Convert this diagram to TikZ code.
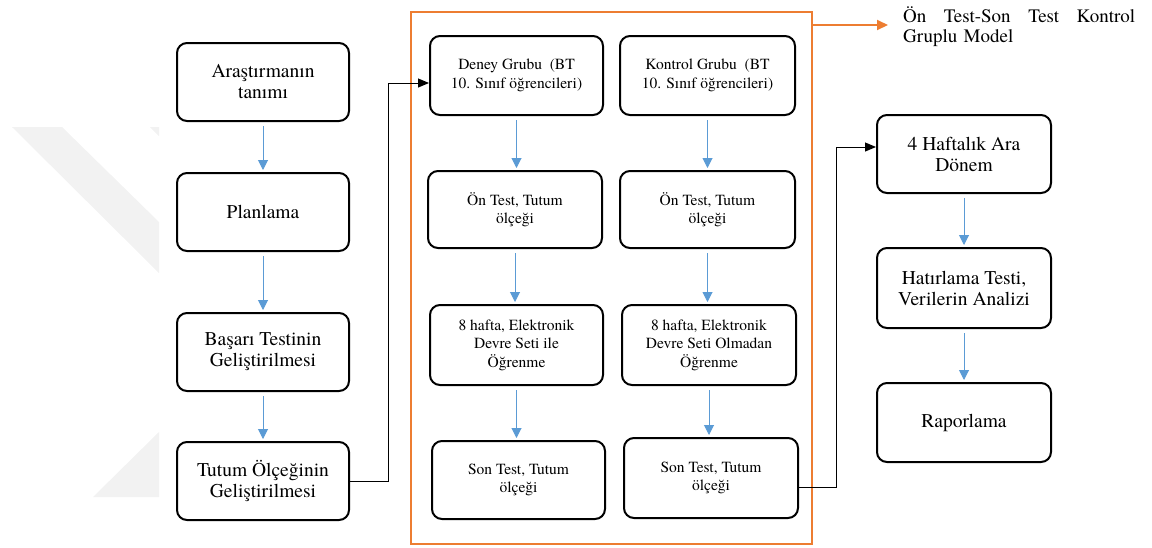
\documentclass[tikz,border=0pt]{standalone}
\usepackage{fontspec}
\IfFontExistsTF{texgyretermes-regular.otf}
    {\setmainfont{texgyretermes}[Extension=.otf, UprightFont=*-regular, BoldFont=*-bold,
        ItalicFont=*-italic, BoldItalicFont=*-bolditalic]}
    {\setmainfont{Liberation Serif}}
\usetikzlibrary{arrows.meta}

\definecolor{flowblue}{RGB}{91,155,213}
\definecolor{frameorange}{RGB}{237,125,49}

\begin{document}
\begin{tikzpicture}[x=1pt, y=-1pt,
    stage/.style={draw, line width=2pt, rounded corners=10pt, align=center, inner sep=0pt,
        font=\fontsize{19.5}{21}\selectfont, minimum width=172pt, minimum height=78pt},
    group/.style={stage, font=\fontsize{15.5}{18.5}\selectfont, minimum width=173pt},
    flow/.style={flowblue, line width=1pt, -{Triangle[width=10pt,length=10pt]},
        shorten <=4pt, shorten >=2pt},
    link/.style={black, line width=1pt, -{Triangle[width=9pt,length=11pt]}},
    frame/.style={frameorange, line width=2pt}]
    \useasboundingbox (0,0) rectangle (1152,547);

    % Watermark
    \fill[black!5] (12,127) -- (62,127) -- (159,222) -- (159,273) -- cycle;
    \fill[black!5] (150,127) -- (159,127) -- (159,136) -- cycle;
    \fill[black!5] (93,497) -- (159,497) -- (159,432) -- cycle;

    % Left column
    \node[stage] (tanim) at (263,82) {Araştırmanın\\tanımı};
    \node[stage] (plan) at (263,212) {Planlama};
    \node[stage] (basari) at (263,352) {Başarı Testinin\\Geliştirilmesi};
    \node[stage] (tutum) at (263,481) {Tutum Ölçeğinin\\Geliştirilmesi};

    \draw[flow] (tanim) -- (plan);
    \draw[flow] (plan) -- (basari);
    \draw[flow] (basari) -- (tutum);

    % Experimental and control groups
    \draw[frame] (411,12) rectangle (812,544);
    \coordinate (frameout) at (812,25);

    \node[group, minimum height=79pt] (deney) at (516.5,75.5) {Deney Grubu~ (BT\\10. Sınıf öğrencileri)};
    \node[group, minimum width=175pt, minimum height=79pt] (kontrol) at (707.5,75.5) {Kontrol Grubu~ (BT\\10. Sınıf öğrencileri)};
    \node[group, minimum width=174pt, minimum height=77pt] (onD) at (515,209.5) {Ön Test, Tutum\\ölçeği};
    \node[group, minimum width=175pt, minimum height=77pt] (onK) at (707.5,209.5) {Ön Test, Tutum\\ölçeği};
    \node[group, minimum height=80pt] (egitimD) at (516.5,345) {8 hafta, Elektronik\\Devre Seti ile\\Öğrenme};
    \node[group, minimum width=174pt, minimum height=80pt] (egitimK) at (709,345) {8 hafta, Elektronik\\Devre Seti Olmadan\\Öğrenme};
    \node[group] (sonD) at (518.5,480) {Son Test, Tutum\\ölçeği};
    \node[group, minimum width=174pt, minimum height=80pt] (sonK) at (711,478) {Son Test, Tutum\\ölçeği};

    \draw[flow] (deney.south) -- (deney.south |- onD.north);
    \draw[flow] (onD.south) -- (onD.south |- egitimD.north);
    \draw[flow] (egitimD.south) -- (egitimD.south |- sonD.north);
    \draw[flow] (kontrol.south) -- (kontrol.south |- onK.north);
    \draw[flow] (onK.south) -- (onK.south |- egitimK.north);
    \draw[flow] (egitimK.south) -- (egitimK.south |- sonK.north);

    % Model label
    \node[font=\fontsize{19}{20.5}\selectfont, anchor=north west, inner sep=0pt,
        text width=232pt, align=left] (model) at (903,6)
        {Ön\hfill Test-Son\hfill Test\hfill Kontrol\\Gruplu Model};
    \draw[frame, -{Triangle[width=10pt,length=11pt]}] (frameout) -- ([xshift=-15pt]model.west |- frameout);

    % Right column
    \node[stage, minimum width=174pt] (ara) at (964,154) {4 Haftalık Ara\\Dönem};
    \node[stage, minimum width=174pt, minimum height=80pt] (hatirlama) at (964,288) {Hatırlama Testi,\\Verilerin Analizi};
    \node[stage, minimum width=174pt, minimum height=79pt] (rapor) at (964,422.5) {Raporlama};

    \draw[flow] (ara) -- (hatirlama);
    \draw[flow] (hatirlama) -- (rapor);

    % Links between the stages
    \draw[link] (tutum.east) -- ++(38,0) |- ([yshift=-7.5pt]deney.west);
    \draw[link] ([yshift=-9pt]sonK.east) -- ++(37,0) |- ([yshift=7pt]ara.west);

\end{tikzpicture}
\end{document}
